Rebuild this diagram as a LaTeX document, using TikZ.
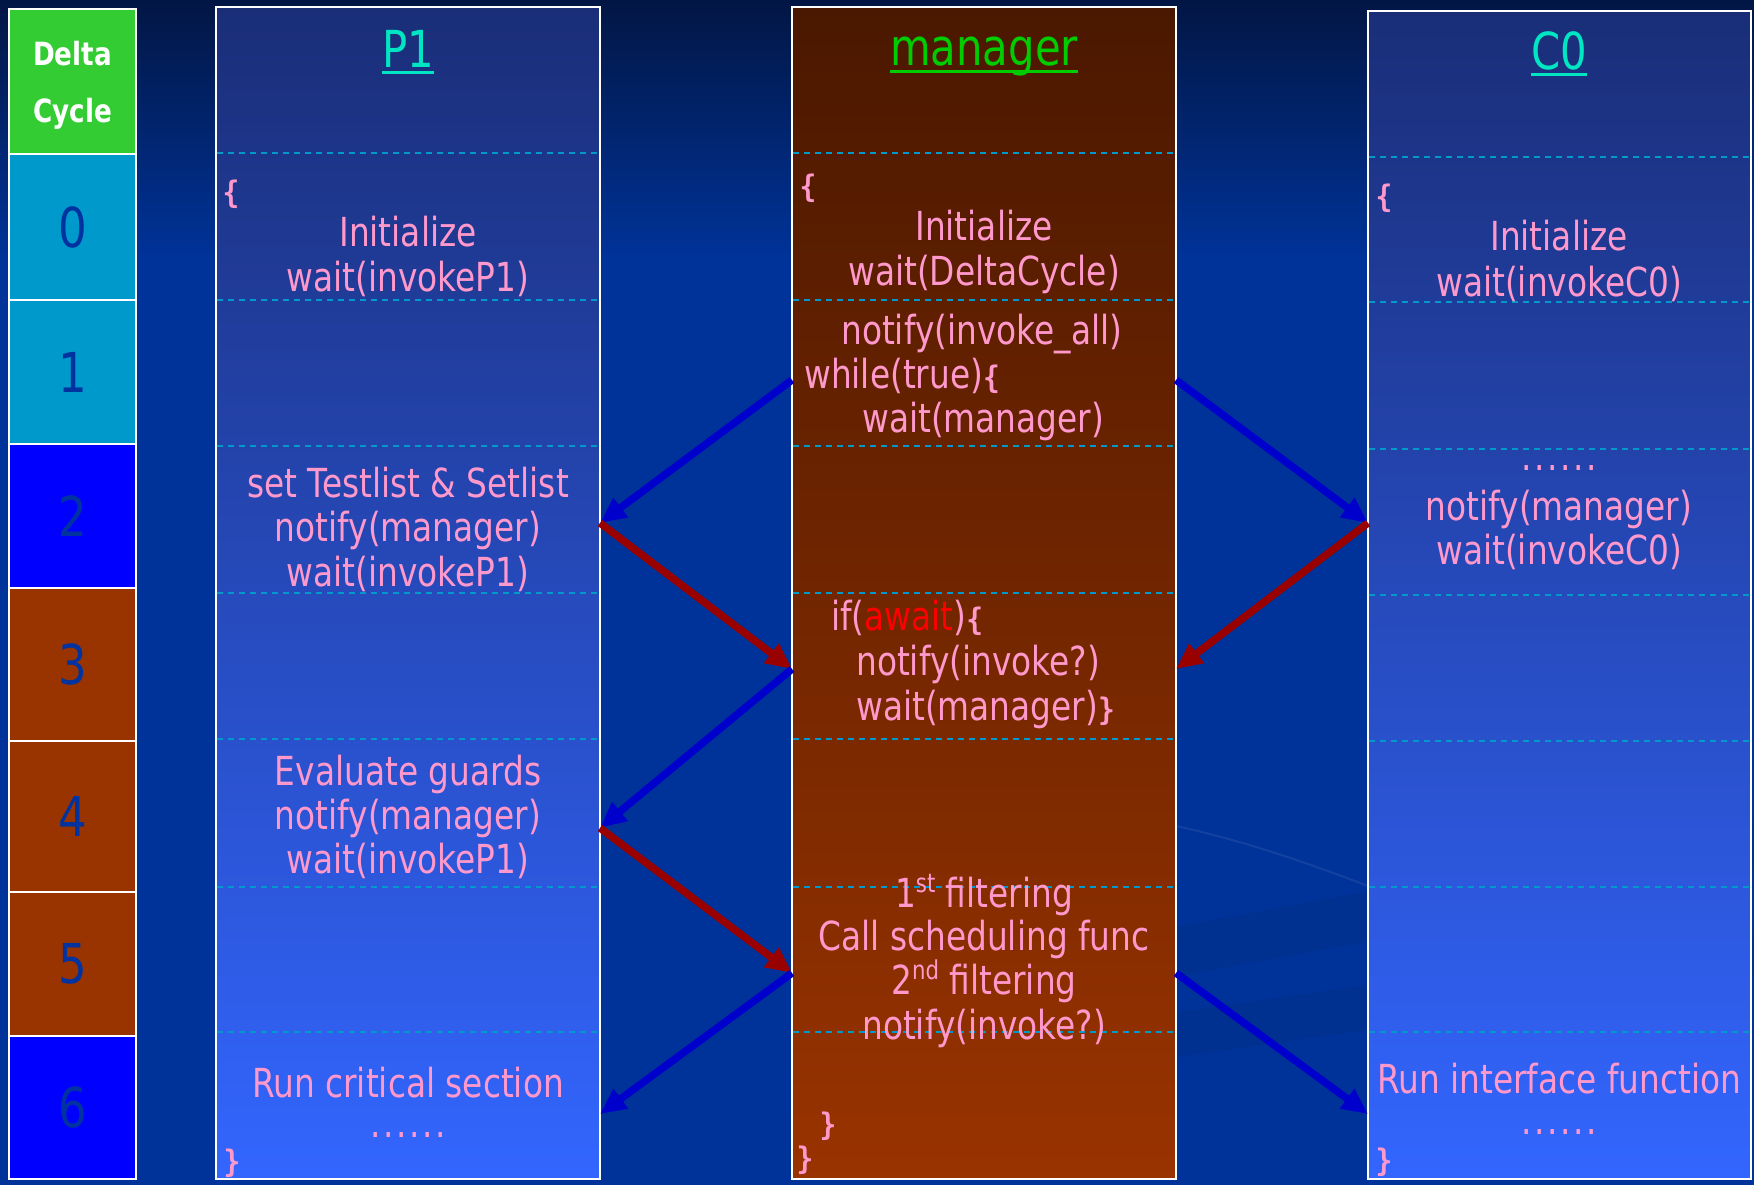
\documentclass[tikz,border=0pt]{standalone}
\usepackage{fontspec}
\setmainfont{DejaVu Sans}[FakeStretch=0.82]
\newfontfamily\bracefont{DejaVu Sans Mono}[FakeStretch=0.9]
\usetikzlibrary{arrows.meta}

\definecolor{bgblue}{RGB}{0,51,153}
\definecolor{bgdark}{RGB}{2,22,68}
\definecolor{pinktxt}{RGB}{255,153,204}
\definecolor{headcyan}{RGB}{0,230,195}
\definecolor{headgreen}{RGB}{0,204,0}
\definecolor{dashc}{RGB}{0,153,204}
\definecolor{procTop}{RGB}{26,46,120}
\definecolor{procBot}{RGB}{51,102,255}
\definecolor{mgrTop}{RGB}{74,24,0}
\definecolor{mgrBot}{RGB}{153,51,0}
\definecolor{cellgreen}{RGB}{51,204,51}
\definecolor{cellcyan}{RGB}{0,153,204}
\definecolor{cellblue}{RGB}{0,0,255}
\definecolor{cellbrown}{RGB}{153,51,0}
\definecolor{digit}{RGB}{0,51,160}
\definecolor{callblue}{RGB}{0,0,204}
\definecolor{retred}{RGB}{153,0,0}
\definecolor{awaitred}{RGB}{255,0,0}

% small bold curly braces of the pseudo code
\newcommand\bracetxt[1]{{\bracefont\bfseries\fontsize{31}{31}\selectfont #1}}
% ordinal suffix
\newcommand\ordsup[1]{\raisebox{0.36em}{\fontsize{26}{26}\selectfont #1}}
% ellipsis row with spaced dots
\newcommand\dotrow{.\kern2.5pt.\kern2.5pt.\kern2.5pt.\kern2.5pt.\kern2.5pt.}

\tikzset{
  column/.style={draw=white, line width=2pt, minimum width=384pt, inner sep=0pt},
  cell/.style={draw=white, line width=2pt, minimum width=127pt, inner sep=0pt,
               text=digit, font=\fontsize{55}{55}\selectfont},
  dline/.style={draw=dashc, line width=1.5pt, dash pattern=on 6pt off 5pt},
  txt/.style={text=pinktxt, font=\fontsize{40}{44.7}\selectfont, inner sep=0pt, anchor=base},
  txtl/.style={txt, anchor=base west},
  brace/.style={text=pinktxt, font=\bracefont\bfseries\fontsize{31}{31}\selectfont, inner sep=0pt},
  head/.style={font=\fontsize{51}{56}\selectfont, inner sep=0pt, anchor=base},
  delta/.style={text=white, font=\bfseries\fontsize{32}{34}\selectfont, inner sep=0pt, anchor=base},
  call/.style={draw=callblue, line width=7.5pt, -{Triangle[length=26pt,width=23pt]}},
  reply/.style={draw=retred, line width=7.5pt, -{Triangle[length=26pt,width=23pt]}}
}

\begin{document}
\begin{tikzpicture}[x=1pt, y=-1pt]
\useasboundingbox (0,0) rectangle (1754,1185);

% background
\fill[bgblue] (0,0) rectangle (1754,1185);
\shade[top color=bgdark, bottom color=bgblue] (0,0) rectangle (1754,260);
\fill[black, opacity=0.06] (1050,950) -- (1754,820) -- (1754,870) -- (1050,1000) -- cycle;
\fill[black, opacity=0.06] (1050,1030) -- (1754,930) -- (1754,975) -- (1050,1075) -- cycle;
\draw[white, opacity=0.07, line width=2pt] (1176,826) .. controls (1240,840) and (1300,860) .. (1368,886);

% delta cycle column
\node[cell, fill=cellgreen, minimum height=145pt] (dhead) at (72.5,81.5) {};
\node[delta] (dl1) at (72.5,66) {Delta};
\node[delta] (dl2) at (72.5,123) {Cycle};
\node[cell, fill=cellcyan,  minimum height=146pt] (d0) at (72.5,227) {0};
\node[cell, fill=cellcyan,  minimum height=144pt] (d1) at (72.5,372) {1};
\node[cell, fill=cellblue,  minimum height=144pt] (d2) at (72.5,516) {2};
\node[cell, fill=cellbrown, minimum height=153pt] (d3) at (72.5,664.5) {3};
\node[cell, fill=cellbrown, minimum height=151pt] (d4) at (72.5,816.5) {4};
\node[cell, fill=cellbrown, minimum height=144pt] (d5) at (72.5,964) {5};
\node[cell, fill=cellblue,  minimum height=143pt] (d6) at (72.5,1107.5) {6};

% process / manager columns
\node[column, top color=procTop, bottom color=procBot, minimum height=1172pt] (p1col) at (408,593) {};
\node[column, top color=mgrTop, bottom color=mgrBot, minimum height=1172pt] (mcol) at (984,593) {};
\node[column, top color=procTop, bottom color=procBot, minimum height=1168pt, minimum width=383pt] (c0col) at (1559.5,595) {};

% row separators
\foreach \y in {153,300,446,593,739,887,1032}{
  \draw[dline] (217,\y) -- (599,\y);
  \draw[dline] (793,\y) -- (1175,\y);
}
\foreach \y in {157,302,449,595,741,887,1032}{
  \draw[dline] (1369,\y) -- (1754,\y);
}

% headings
\node[head, text=headcyan] (p1h) at (408,68) {P1};
\draw[headcyan, line width=3pt] ([yshift=-5pt]p1h.base west) -- ([yshift=-5pt]p1h.base east);
\node[head, text=headgreen] (mh) at (984,66) {manager};
\draw[headgreen, line width=3pt] ([yshift=-6pt]mh.base west) -- ([yshift=-6pt]mh.base east);
\node[head, text=headcyan] (c0h) at (1559,70) {C0};
\draw[headcyan, line width=3pt] ([yshift=-5pt]c0h.base west) -- ([yshift=-5pt]c0h.base east);

% P1 code
\node[brace] (p1o) at (231,194) {\{};
\node[txt] (p1a) at (408,247) {Initialize};
\node[txt] (p1b) at (408,291) {wait(invokeP1)};
\node[txt] (p1c) at (408,497) {set Testlist \& Setlist};
\node[txt] (p1d) at (408,541) {notify(manager)};
\node[txt] (p1e) at (408,586) {wait(invokeP1)};
\node[txt] (p1f) at (408,785) {Evaluate guards};
\node[txt] (p1g) at (408,829) {notify(manager)};
\node[txt] (p1h2) at (408,873) {wait(invokeP1)};
\node[txt] (p1i) at (408,1097) {Run critical section};
\node[txt] (p1j) at (408,1137) {\dotrow};
\node[brace] (p1c2) at (232,1163) {\}};

% manager code
\node[brace] (mo) at (808,188) {\{};
\node[txt] (ma) at (984,241) {Initialize};
\node[txt] (mb) at (984,285) {wait(DeltaCycle)};
\node[txtl] (mc) at (841,344) {notify(invoke\_all)};
\node[txtl] (md) at (804,388) {while(true)\bracetxt{\{}};
\node[txtl] (me) at (862,432) {wait(manager)};
\node[txtl] (mf) at (831,630) {if(\textcolor{awaitred}{await})\bracetxt{\{}};
\node[txtl] (mg) at (856,675) {notify(invoke?)};
\node[txtl] (mh2) at (856,720) {wait(manager)\bracetxt{\}}};
\node[txt] (mi) at (984,907) {1\ordsup{st} filtering};
\node[txt] (mj) at (984,950) {Call scheduling func};
\node[txt] (mk) at (984,994) {2\ordsup{nd} filtering};
\node[txt] (ml) at (984,1039) {notify(invoke?)};
\node[brace] (mc1) at (828,1126) {\}};
\node[brace] (mc2) at (805,1160) {\}};

% C0 code
\node[brace] (c0o) at (1384,198) {\{};
\node[txt] (c0a) at (1559,251) {Initialize};
\node[txt] (c0b) at (1559,296) {wait(invokeC0)};
\node[txt] (c0c) at (1559,470) {\dotrow};
\node[txt] (c0d) at (1559,520) {notify(manager)};
\node[txt] (c0e) at (1559,564) {wait(invokeC0)};
\node[txt] (c0f) at (1559,1093) {Run interface function};
\node[txt] (c0g) at (1559,1134) {\dotrow};
\node[brace] (c0c2) at (1384,1162) {\}};

% connector end points on the column edges
\coordinate (pA) at (600,523);
\coordinate (pB) at (600,828);
\coordinate (pC) at (600,1114);
\coordinate (mL1) at (792,380);
\coordinate (mL2) at (792,669);
\coordinate (mL3) at (792,973);
\coordinate (mR1) at (1176,380);
\coordinate (mR2) at (1176,669);
\coordinate (mR3) at (1176,973);
\coordinate (cA) at (1368,523);
\coordinate (cB) at (1368,1114);

% invocations and notifications
\draw[call] (mL1) -- (pA);
\draw[call] (mR1) -- (cA);
\draw[reply] (pA) -- (mL2);
\draw[reply] (cA) -- (mR2);
\draw[call] (mL2) -- (pB);
\draw[reply] (pB) -- (mL3);
\draw[call] (mL3) -- (pC);
\draw[call] (mR3) -- (cB);
\end{tikzpicture}
\end{document}
